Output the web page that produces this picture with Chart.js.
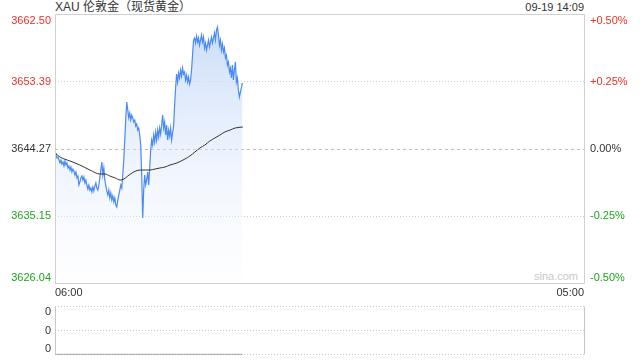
<!DOCTYPE html>
<html lang="zh-CN">
<head>
<meta charset="UTF-8">
<title>XAU 伦敦金（现货黄金）</title>
<script src="https://cdn.jsdelivr.net/npm/chart.js"></script>
<style>
  html, body { margin: 0; padding: 0; background: #fff; }
  body { width: 640px; height: 360px; position: relative; overflow: hidden;
         font-family: "Liberation Sans", Arial, "Noto Sans CJK SC", sans-serif; color: #333; }
  #title { position: absolute; left: 55px; top: 0; font-size: 12px; line-height: 14px; }
  #stamp { position: absolute; right: 56px; top: 1px; font-size: 11px; line-height: 13px; }
  #mark  { position: absolute; right: 62px; top: 270px; font-size: 11px; line-height: 13px; color: #c9c9c9; }
  canvas { position: absolute; left: 0; }
  #main { top: 0; }
  #vol  { top: 296px; }
</style>
</head>
<body>

<div id="title">XAU 伦敦金（现货黄金）</div>
<div id="stamp">09-19 14:09</div>
<div id="mark">sina.com</div>

<canvas id="main" width="640" height="300"></canvas>
<canvas id="vol" width="640" height="69"></canvas>

<script>
  // axis ticks
  const priceTicks = [3626.04, 3635.15, 3644.27, 3653.39, 3662.50];
  const pctTicks = [-0.50, -0.25, 0, 0.25, 0.50];
  const timeTicks = [0, 1380];            // minutes after 06:00
  const timeLabels = ['06:00', '05:00'];
  const volTicks = [0, 0.5, 1];
  const volTickLabels = ['0', '0', '0'];

  // price, one sample every 2.6 minutes from 06:00
  const sampleEvery = 2.6;
  const price = [
    3643.73, 3643.45, 3643.05, 3643.18, 3642.77, 3642.37, 3642.77, 3642.23, 3642.50, 3641.96,
    3642.64, 3642.09, 3642.37, 3641.69, 3641.96, 3641.41, 3641.82, 3641.14, 3641.55, 3641.28,
    3640.73, 3641.14, 3640.33, 3640.60, 3639.37, 3639.78, 3640.33, 3640.60, 3640.05, 3640.46,
    3639.65, 3640.05, 3639.37, 3638.83, 3639.37, 3638.69, 3638.97, 3638.42, 3639.10, 3638.56,
    3639.24, 3639.65, 3638.97, 3638.69, 3639.37, 3640.33, 3641.41, 3642.50, 3640.73, 3641.69,
    3640.05, 3639.24, 3638.56, 3638.01, 3638.69, 3637.61, 3638.29, 3637.33, 3637.88, 3637.06,
    3637.61, 3636.65, 3636.38, 3637.33, 3638.01, 3638.69, 3639.37, 3638.97, 3640.73, 3642.77,
    3645.49, 3648.49, 3650.66, 3649.57, 3648.49, 3649.17, 3648.21, 3648.89, 3648.49, 3647.94,
    3648.21, 3647.40, 3647.67, 3646.85, 3647.13, 3646.17, 3644.81, 3640.73, 3634.89, 3638.69,
    3640.73, 3639.37, 3640.05, 3641.14, 3639.37, 3641.69, 3644.13, 3645.49, 3644.81, 3646.17,
    3645.22, 3646.58, 3645.49, 3646.85, 3645.90, 3647.13, 3646.31, 3647.53, 3648.89, 3647.13,
    3647.94, 3646.17, 3647.53, 3645.49, 3646.85, 3646.04, 3647.13, 3645.49, 3646.45, 3647.40,
    3650.25, 3652.57, 3654.47, 3653.38, 3654.61, 3653.93, 3655.01, 3654.20, 3655.29, 3654.47,
    3654.74, 3653.65, 3654.33, 3653.38, 3654.06, 3653.11, 3653.65, 3655.01, 3657.05, 3659.09,
    3659.37, 3658.69, 3659.64, 3658.82, 3659.37, 3658.41, 3659.09, 3659.77, 3658.82, 3659.50,
    3658.01, 3658.69, 3657.73, 3658.41, 3659.09, 3658.14, 3658.82, 3659.50, 3658.69, 3659.37,
    3660.05, 3659.09, 3660.45, 3660.86, 3659.77, 3658.41, 3659.09, 3657.73, 3658.55, 3657.46,
    3658.01, 3656.65, 3657.05, 3655.69, 3656.10, 3654.74, 3655.29, 3653.93, 3655.69, 3653.65,
    3655.01, 3656.10, 3653.38, 3653.93, 3652.29, 3651.34, 3652.02, 3652.57, 3653.25
  ];

  // average price line
  const avgMinutes = [0, 13, 39, 65, 91, 117, 130, 143, 157, 170, 180, 190, 201, 211, 222, 235, 248,
                      261, 274, 287, 300, 318, 339, 352, 365, 378, 391, 404, 417, 430, 443, 457, 470, 490];
  const avgPrice = [3643.73, 3643.18, 3642.64, 3642.09, 3641.41, 3640.87, 3640.87, 3640.60, 3640.33,
                    3640.05, 3640.19, 3640.60, 3641.01, 3641.28, 3641.41, 3641.41, 3641.41, 3641.55,
                    3641.69, 3641.82, 3642.09, 3642.37, 3642.91, 3643.32, 3643.86, 3644.41, 3644.81,
                    3645.36, 3645.77, 3646.17, 3646.58, 3646.85, 3647.13, 3647.26];

  // volume panel
  const volMinutes = [0, 489];
  const volume = [0, 0];

  const RED = '#f0302a', GREEN = '#1ea51e', DARK = '#333';
  Chart.defaults.font.family = '"Liberation Sans", Arial, sans-serif';
  Chart.defaults.font.size = 11;

  // first / last y label sit inside the plot like the original
  const edgeLabels = {
    id: 'edgeLabels',
    beforeDraw(chart) {
      Object.values(chart.scales).forEach(s => {
        if (s.axis !== 'y' || !s.options.display) return;
        const items = s._computeLabelItems(chart.chartArea);
        if (items.length) {
          items[0].options.textBaseline = 'bottom';
          items[items.length - 1].options.textBaseline = 'top';
        }
        s._labelItems = items;
      });
    }
  };

  // light frame round the plot
  const frame = {
    id: 'frame',
    afterDatasetsDraw(chart, args, opts) {
      const { ctx, chartArea: a } = chart;
      const l = Math.round(a.left) + 0.5, r = Math.round(a.right) + 0.5;
      const t = Math.round(a.top) - 0.5, b = Math.round(a.bottom) + 0.5;
      ctx.save();
      ctx.strokeStyle = opts.color || '#cfcfcf';
      ctx.lineWidth = 1;
      ctx.beginPath();
      if (opts.top !== false) { ctx.moveTo(l, t); ctx.lineTo(r, t); }
      if (opts.bottom !== false) { ctx.moveTo(l, b); ctx.lineTo(r, b); }
      ctx.moveTo(l, t); ctx.lineTo(l, b);
      ctx.moveTo(r, t); ctx.lineTo(r, b);
      ctx.stroke();
      ctx.restore();
    }
  };

  const tickColor = c => c.index < 2 ? GREEN : (c.index === 2 ? DARK : RED);

  new Chart(document.getElementById('main'), {
    type: 'line',
    data: {
      datasets: [
        {
          label: '均价',
          data: avgMinutes.map((m, i) => ({ x: m, y: avgPrice[i] })),
          borderColor: '#333',
          borderWidth: 1,
          pointRadius: 0,
          cubicInterpolationMode: 'monotone',
          fill: false
        },
        {
          label: '价格',
          data: price.map((v, i) => ({ x: i * sampleEvery, y: v })),
          borderColor: '#4a8af4',
          borderWidth: 1.2,
          pointRadius: 0,
          tension: 0,
          fill: 'start',
          backgroundColor: c => {
            const a = c.chart.chartArea;
            if (!a) return 'rgba(200,218,246,0.5)';
            const g = c.chart.ctx.createLinearGradient(0, a.top, 0, a.bottom);
            g.addColorStop(0, 'rgba(190,212,247,0.85)');
            g.addColorStop(1, 'rgba(240,245,255,0.1)');
            return g;
          }
        }
      ]
    },
    options: {
      responsive: false,
      animation: false,
      layout: { padding: { top: 15 } },
      plugins: {
        legend: { display: false },
        tooltip: { enabled: false },
        frame: { color: '#d0d0d0' }
      },
      scales: {
        x: {
          type: 'linear', min: 0, max: 1380,
          afterBuildTicks: s => { s.ticks = timeTicks.map(v => ({ value: v })); },
          afterFit: s => { s.height = 17; },
          grid: { display: false, drawTicks: false },
          border: { display: false },
          ticks: { align: 'inner', padding: 3, maxRotation: 0, autoSkip: false, color: DARK,
                   callback: (v, i) => timeLabels[i] }
        },
        y: {
          position: 'left',
          min: priceTicks[0], max: priceTicks[4],
          afterBuildTicks: s => { s.ticks = priceTicks.map(v => ({ value: v })); },
          afterFit: s => { s.width = 55; },
          grid: { drawTicks: false, borderDash: [1, 2],
                  color: c => (c.index === 1 || c.index === 3) ? '#cfcfcf' : 'transparent' },
          border: { display: false, dash: [1, 2] },
          ticks: { padding: 4, color: tickColor, callback: (v, i) => priceTicks[i].toFixed(2) }
        },
        pct: {
          position: 'right',
          min: pctTicks[0], max: pctTicks[4],
          afterBuildTicks: s => { s.ticks = pctTicks.map(v => ({ value: v })); },
          afterFit: s => { s.width = 56; },
          grid: { drawTicks: false, borderDash: [3, 3],
                  color: c => c.index === 2 ? '#bdbdbd' : 'transparent' },
          border: { display: false, dash: [3, 3] },
          ticks: { padding: 6, color: tickColor,
                   callback: (v, i) => (pctTicks[i] > 0 ? '+' : '') + pctTicks[i].toFixed(2) + '%' }
        }
      }
    },
    plugins: [edgeLabels, frame]
  });

  new Chart(document.getElementById('vol'), {
    type: 'line',
    data: {
      datasets: [{
        label: '成交量',
        data: volMinutes.map((m, i) => ({ x: m, y: volume[i] })),
        borderColor: '#666',
        borderWidth: 1,
        pointRadius: 0
      }]
    },
    options: {
      responsive: false,
      animation: false,
      layout: { padding: { top: 8, bottom: 1, right: 56 } },
      plugins: {
        legend: { display: false },
        tooltip: { enabled: false },
        frame: { color: '#c8c8c8', top: false, bottom: false }
      },
      scales: {
        x: { type: 'linear', min: 0, max: 1380, display: false },
        y: {
          min: volTicks[0], max: volTicks[2],
          afterBuildTicks: s => { s.ticks = volTicks.map(v => ({ value: v })); },
          afterFit: s => { s.width = 55; },
          grid: { drawTicks: false, borderDash: [1, 2], color: '#c8c8c8' },
          border: { display: false, dash: [1, 2] },
          ticks: { padding: 4, color: DARK, callback: (v, i) => volTickLabels[i] }
        }
      }
    },
    plugins: [edgeLabels, frame]
  });
</script>
</body>
</html>
